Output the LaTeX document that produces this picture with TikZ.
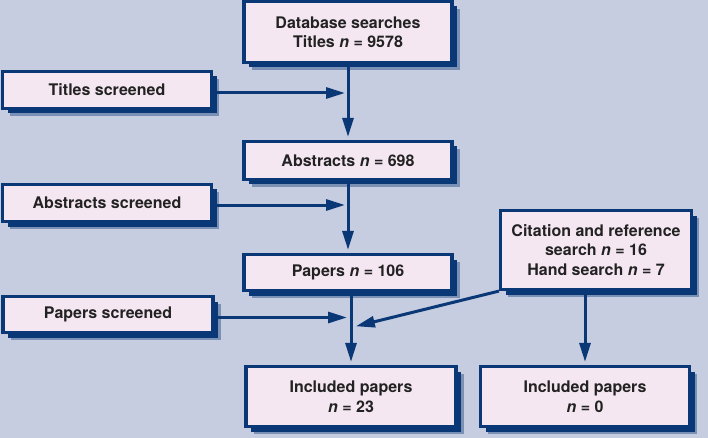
\documentclass[tikz,border=0pt]{standalone}
\usepackage{fontspec}
\setmainfont{TeX Gyre Heros}
\usepackage{tikz}
\usetikzlibrary{arrows.meta}
\usetikzlibrary{shadows}
\usepackage{xcolor}
\definecolor{bgblue}{HTML}{C6CDE0}
\definecolor{boxpink}{HTML}{F5E7F1}
\definecolor{navy}{HTML}{0A3775}
\definecolor{inkgray}{HTML}{222222}

\begin{document}
\begin{tikzpicture}[x=1pt,y=-1pt,
	flowbox/.style={draw=navy,line width=3.2pt,fill=boxpink,text=inkgray,
		font=\fontsize{16}{19.5}\selectfont\bfseries,align=center,inner sep=0pt,
		drop shadow={shadow xshift=7.5pt,shadow yshift=-7.5pt,fill=navy,opacity=0.4},
		drop shadow={shadow xshift=5pt,shadow yshift=-5pt,fill=navy,opacity=1}},
	flowarrow/.style={draw=navy,line width=3pt,-{Triangle[length=19pt,width=11pt]},shorten >=3pt}]
	\path[use as bounding box,fill=bgblue] (0,0) rectangle (708,438);
	% main column
	\node[flowbox,minimum width=208pt,minimum height=61pt] (db) at (348,32) {Database searches\\Titles \textit{n} = 9578};
	\node[flowbox,minimum width=208pt,minimum height=38pt] (abs) at (348,160.5) {Abstracts \textit{n} = 698};
	\node[flowbox,minimum width=208pt,minimum height=36pt] (pap) at (348,272.5) {Papers \textit{n} = 106};
	\node[flowbox,minimum width=210pt,minimum height=60pt] (inc1) at (351,396.5) {Included papers\\\textit{n} = 23};
	% screening boxes
	\node[flowbox,minimum width=209pt,minimum height=37pt] (tscr) at (107,90) {Titles screened};
	\node[flowbox,minimum width=209pt,minimum height=37pt] (ascr) at (107,203) {Abstracts screened};
	\node[flowbox,minimum width=210pt,minimum height=36pt] (pscr) at (108,314.5) {Papers screened};
	% right column
	\node[flowbox,minimum width=191pt,minimum height=79pt] (cite) at (596,250) {Citation and reference\\search \textit{n} = 16\\Hand search \textit{n} = 7};
	\node[flowbox,minimum width=209pt,minimum height=60pt] (inc2) at (585,396.5) {Included papers\\\textit{n} = 0};
	\coordinate (citejoin) at (351,327.5);

	\draw[flowarrow] (db) -- (abs);
	\draw[flowarrow] (abs) -- (pap);
	\draw[flowarrow] (pap.south) -- (pap.south -| inc1.north) -- (inc1.north);
	\draw[flowarrow] ([yshift=-3pt]tscr.east) -- ([yshift=-3pt]tscr.east -| db.south);
	\draw[flowarrow] ([yshift=-2pt]ascr.east) -- ([yshift=-2pt]ascr.east -| abs.south);
	\draw[flowarrow,shorten >=4pt] ([yshift=-3pt]pscr.east) -- ([yshift=-3pt]pscr.east -| inc1.north);
	\draw[flowarrow,shorten >=5pt] (cite.south west) -- (citejoin);
	\draw[flowarrow] (cite.south -| inc2.north) -- (inc2.north);
\end{tikzpicture}
\end{document}
